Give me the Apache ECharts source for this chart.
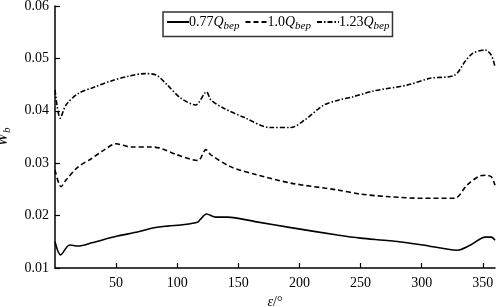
<!DOCTYPE html>
<html>
<head>
<meta charset="utf-8">
<script src="https://cdn.jsdelivr.net/npm/echarts@6/dist/echarts.min.js"></script>
<style>
  html, body { margin: 0; padding: 0; background: #fff; }
  #chart { width: 498px; height: 307px; }
</style>
</head>
<body>
<div id="chart"></div>
<script>
// angle (deg) and W_b values
var angLow = [0, 4.6, 12, 19, 30, 51, 68, 79, 92, 106, 117, 119, 124, 131.5, 141, 165, 193, 231, 250, 274, 301, 329, 340, 352, 357, 360];
var wLow = [0.0150, 0.0125, 0.0144, 0.0142, 0.0148, 0.0161, 0.0169, 0.0176, 0.0180, 0.0183, 0.0188, 0.0193, 0.0203, 0.0197, 0.0197, 0.0188, 0.0177, 0.0163, 0.0157, 0.0152, 0.0144, 0.0134, 0.0144, 0.0159, 0.0159, 0.0153];

var angMid = [0, 5, 9, 19, 30, 40, 50, 62, 79, 87, 100, 117, 123.4, 127.5, 144, 165, 193, 231, 250, 274, 301, 327, 337, 348, 353, 357, 360];
var wMid = [0.0287, 0.0255, 0.0268, 0.0293, 0.0309, 0.0325, 0.0337, 0.0331, 0.0331, 0.0328, 0.0316, 0.0305, 0.0326, 0.0316, 0.0293, 0.0278, 0.0262, 0.0249, 0.0241, 0.0236, 0.0233, 0.0233, 0.0258, 0.0276, 0.0277, 0.0274, 0.0258];

var angHigh = [0, 4.3, 9, 19, 32, 46, 60, 74, 83, 92, 103, 115, 124, 127.5, 138, 155, 176, 193, 204, 220, 233, 244, 261, 288, 307, 327, 335.5, 342, 352, 357, 360];
var wHigh = [0.0440, 0.0386, 0.0411, 0.0433, 0.0445, 0.0457, 0.0466, 0.0471, 0.0468, 0.0449, 0.0424, 0.0411, 0.0436, 0.0421, 0.0405, 0.0387, 0.0368, 0.0368, 0.0382, 0.0411, 0.0421, 0.0427, 0.0438, 0.0449, 0.0462, 0.0468, 0.0494, 0.0510, 0.0516, 0.0506, 0.0484];

var xTicks = [50, 100, 150, 200, 250, 300, 350];
var seriesNames = ['0.77', '1.0', '1.23'];

function pairs(a, b) {
  var out = [];
  for (var i = 0; i < a.length; i++) out.push([a[i], b[i]]);
  return out;
}

var serif = 'Liberation Serif';
var chart = echarts.init(document.getElementById('chart'));

function makeSeries(name, data, dash) {
  return {
    name: name,
    type: 'line',
    data: data,
    smooth: 0.3,
    symbol: 'none',
    color: '#000',
    lineStyle: { color: '#000', width: 1.6, type: dash }
  };
}

var option = {
  animation: false,
  backgroundColor: '#fff',
  grid: { left: 55, right: 3, top: 6, bottom: 39, outerBoundsMode: 'none' },
  legend: {
    left: 163,
    top: 12,
    padding: [3, 3, 5, 3],
    itemGap: 5,
    itemWidth: 22,
    itemHeight: 12,
    borderColor: '#333',
    borderWidth: 1.5,
    data: seriesNames,
    itemStyle: { opacity: 0 },
    formatter: function (n) { return '{n|' + n + '}{q|Q}{s|bep}'; },
    textStyle: {
      fontFamily: serif,
      color: '#000',
      padding: [0, 0, 0, -5],
      rich: {
        n: { fontFamily: serif, fontSize: 14, color: '#000' },
        q: { fontFamily: serif, fontSize: 14, fontStyle: 'italic', color: '#000' },
        s: { fontFamily: serif, fontSize: 11, fontStyle: 'italic', color: '#000', padding: [8, 0, 0, 0] }
      }
    }
  },
  xAxis: {
    type: 'value',
    min: 0,
    max: 360,
    interval: 50,
    name: '{e|ε}/°',
    nameLocation: 'middle',
    nameGap: 23,
    nameTextStyle: {
      fontFamily: serif, fontSize: 14, color: '#000',
      rich: { e: { fontFamily: serif, fontSize: 14, fontStyle: 'italic', color: '#000' } }
    },
    splitLine: { show: false },
    axisLine: { lineStyle: { color: '#000', width: 1.5 } },
    axisTick: { inside: true, length: 5, customValues: xTicks, lineStyle: { color: '#000', width: 1.2 } },
    axisLabel: { customValues: xTicks, fontFamily: serif, fontSize: 14, color: '#000', margin: 8 }
  },
  yAxis: {
    type: 'value',
    min: 0.01,
    max: 0.06,
    interval: 0.01,
    name: '{w|W}{b|b}',
    nameLocation: 'middle',
    nameGap: 42,
    nameRotate: 90,
    nameTextStyle: {
      rich: {
        w: { fontFamily: serif, fontSize: 16, fontStyle: 'italic', color: '#000' },
        b: { fontFamily: serif, fontSize: 11, fontStyle: 'italic', color: '#000', padding: [9, 0, 0, 0] }
      }
    },
    splitLine: { show: false },
    axisLine: { show: true, lineStyle: { color: '#000', width: 1.5 } },
    axisTick: { show: true, inside: true, length: 5, lineStyle: { color: '#000', width: 1.2 } },
    axisLabel: {
      fontFamily: serif, fontSize: 14, color: '#000', margin: 6,
      formatter: function (v) { return v.toFixed(2); }
    }
  },
  series: [
    makeSeries(seriesNames[0], pairs(angLow, wLow), 'solid'),
    makeSeries(seriesNames[1], pairs(angMid, wMid), [5, 3]),
    makeSeries(seriesNames[2], pairs(angHigh, wHigh), [5, 2, 1.5, 2])
  ]
};

chart.setOption(option);
</script>
</body>
</html>
